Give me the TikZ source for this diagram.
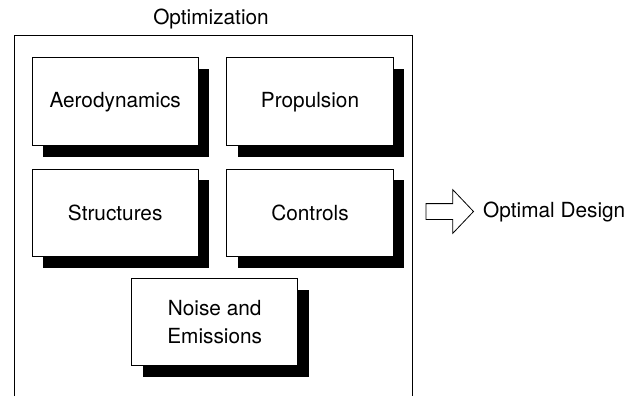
\documentclass[tikz,border=0pt]{standalone}
\usepackage{fontspec}
\setmainfont{TeX Gyre Heros}
\usepackage{tikz}
\usetikzlibrary{positioning,shadows,shapes.arrows}

\begin{document}
\begin{tikzpicture}[
    x=1pt, y=1pt,
    every node/.style={font=\fontsize{20.8}{28.3}\selectfont},
    box/.style={rectangle, draw, line width=0.8pt, fill=white, minimum height=87.7pt, minimum width=166.3pt, align=center,
        drop shadow={shadow xshift=11pt, shadow yshift=-11.5pt, fill=black, opacity=1}},
    bigarrow/.style={single arrow, draw, line width=0.8pt, inner xsep=0pt, inner ysep=7.5pt, minimum height=47.5pt,
        single arrow head extend=14pt, single arrow tip angle=93}
]
    \useasboundingbox (0,0) rectangle (639,-396);

    % Frame
    \coordinate (frameTL) at (14,-35);
    \coordinate (frameTR) at (412.7,-35);
    \coordinate (frameBL) at (14,-396);
    \coordinate (frameBR) at (412.7,-396);
    \draw[line width=0.8pt] (frameBL) -- (frameTL) -- (frameTR) -- (frameBR);
    \node[inner sep=0pt] (title) at (211,-19) {Optimization};

    % Nodes
    \node[box] (aero) at (115.2,-101.7) {Aerodynamics};
    \node[box, right=27.7pt of aero] (prop) {Propulsion};
    \node[box, below=22.6pt of aero] (struct) {Structures};
    \node[box, below=22.6pt of prop] (ctrl) {Controls};
    \node[box] (noise) at (214.7,-321.9) {Noise and\\Emissions};

    % Arrows
    \node[bigarrow] (out) at (446,-211.5) {};
    \node[inner sep=0pt, anchor=west] (design) at (483,-212) {Optimal Design};
\end{tikzpicture}
\end{document}
